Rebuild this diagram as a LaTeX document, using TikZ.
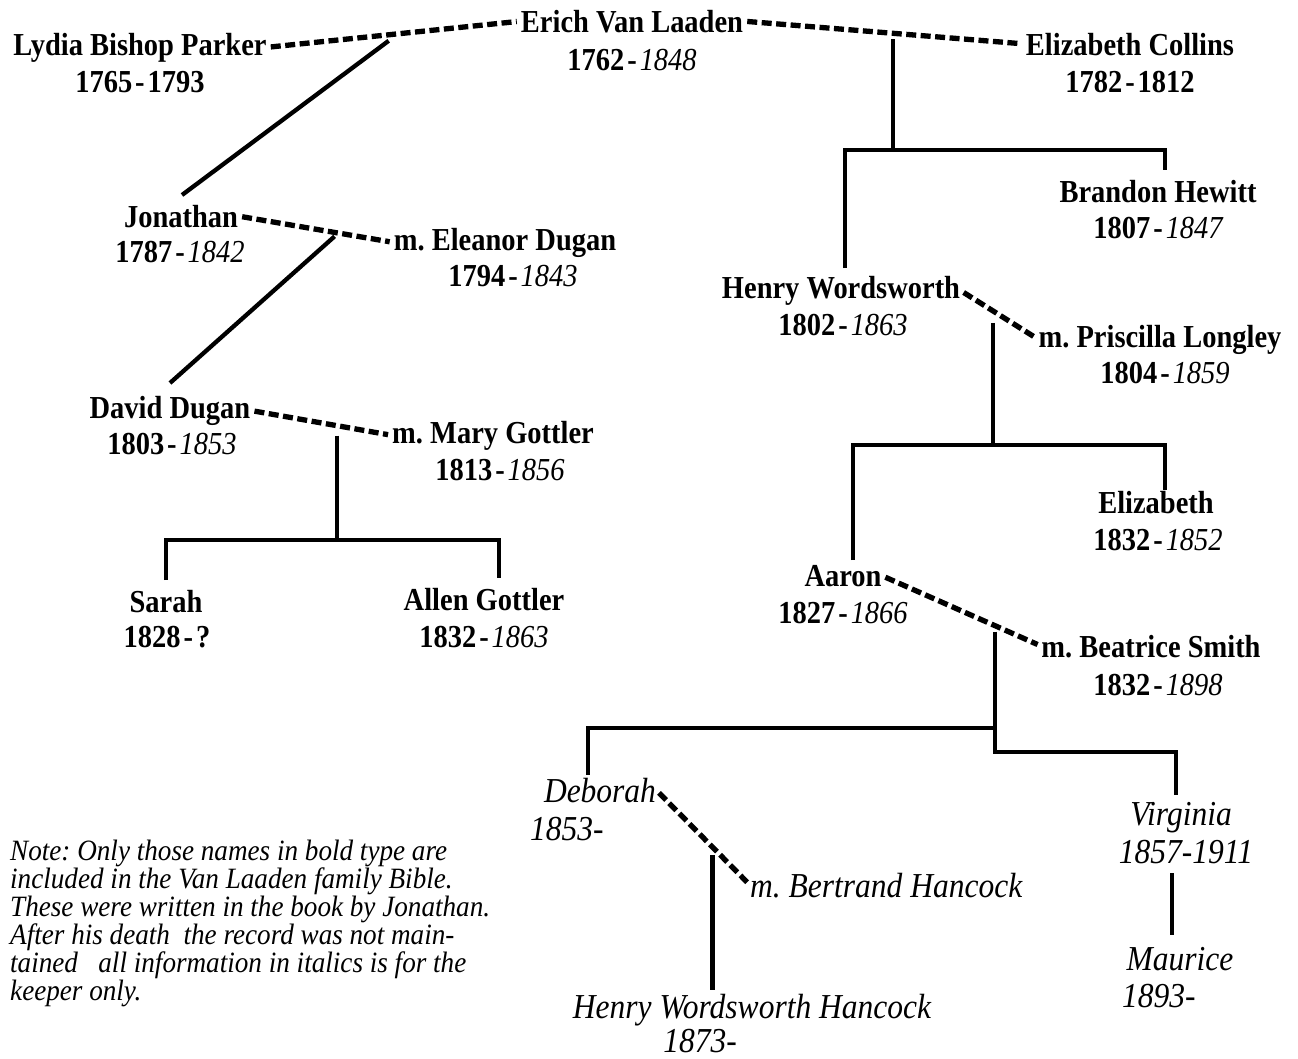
\documentclass[tikz,border=0pt]{standalone}
\usepackage{fontspec}
\setmainfont{Liberation Serif}
\newfontfamily\nmfam{Liberation Serif}[FakeStretch=0.89]
\newfontfamily\itfam{Liberation Serif}[FakeStretch=0.9]
\newfontfamily\ntfam{Liberation Serif}[FakeStretch=0.92]
\usetikzlibrary{calc}
\newcommand\yrs[2]{#1\kern3pt-\kern3pt{\mdseries\itshape #2}}
\newcommand\ybb[2]{#1\kern3pt-\kern3pt#2}
\begin{document}
\frenchspacing
\begin{tikzpicture}[x=1pt,y=-1pt,
  nm/.style={inner sep=0pt, font=\nmfam\fontsize{32}{35}\selectfont\bfseries},
  itn/.style={inner sep=0pt, font=\itfam\fontsize{35}{35}\selectfont\itshape},
  solidln/.style={line width=4.3pt, line cap=butt, line join=miter},
  dashln/.style={line width=5.3pt, dash pattern=on 10pt off 4.5pt, shorten <=4pt, shorten >=4pt},
]
\fill[white] (0,0) rectangle (1298,1058);
\useasboundingbox (0,0) rectangle (1298,1058);

% ---- top generation
\node[nm, anchor=base] (lydN) at (140,55) {Lydia Bishop Parker};
\node[nm, anchor=base] (lydD) at (140,92) {\ybb{1765}{1793}};
\node[nm, anchor=base] (erN) at (632,32) {Erich Van Laaden};
\node[nm, anchor=base] (erD) at (632,70) {\yrs{1762}{1848}};
\node[nm, anchor=base] (ecN) at (1130,55) {Elizabeth Collins};
\node[nm, anchor=base] (ecD) at (1130,92) {\ybb{1782}{1812}};

% ---- left branch
\node[nm, anchor=base] (jonN) at (181,227) {Jonathan};
\node[nm, anchor=base] (jonD) at (180,262) {\yrs{1787}{1842}};
\node[nm, anchor=base] (elN) at (505,250) {m. Eleanor Dugan};
\node[nm, anchor=base] (elD) at (513,286) {\yrs{1794}{1843}};
\node[nm, anchor=base] (ddN) at (170,418) {David Dugan};
\node[nm, anchor=base] (ddD) at (172,454) {\yrs{1803}{1853}};
\node[nm, anchor=base] (mgN) at (493,443) {m. Mary Gottler};
\node[nm, anchor=base] (mgD) at (500,480) {\yrs{1813}{1856}};
\node[nm, anchor=base] (saN) at (166,612) {Sarah};
\node[nm, anchor=base] (saD) at (167,647) {\ybb{1828}{?}};
\node[nm, anchor=base] (agN) at (484,610) {Allen Gottler};
\node[nm, anchor=base] (agD) at (484,647) {\yrs{1832}{1863}};

% ---- right branch
\node[nm, anchor=base] (bhN) at (1158,202) {Brandon Hewitt};
\node[nm, anchor=base] (bhD) at (1158,238) {\yrs{1807}{1847}};
\node[nm, anchor=base] (hwN) at (841,298) {Henry Wordsworth};
\node[nm, anchor=base] (hwD) at (843,335) {\yrs{1802}{1863}};
\node[nm, anchor=base] (plN) at (1160,347) {m. Priscilla Longley};
\node[nm, anchor=base] (plD) at (1165,383) {\yrs{1804}{1859}};
\node[nm, anchor=base] (ezN) at (1156,513) {Elizabeth};
\node[nm, anchor=base] (ezD) at (1158,550) {\yrs{1832}{1852}};
\node[nm, anchor=base] (aaN) at (843,586) {Aaron};
\node[nm, anchor=base] (aaD) at (843,623) {\yrs{1827}{1866}};
\node[nm, anchor=base] (bsN) at (1151,657) {m. Beatrice Smith};
\node[nm, anchor=base] (bsD) at (1158,695) {\yrs{1832}{1898}};

% ---- italic generation
\node[itn, anchor=base] (dbN) at (600,802) {Deborah};
\node[itn, anchor=base west] (dbD) at (530,840) {1853-};
\node[itn, anchor=base west] (btN) at (750,897) {m. Bertrand Hancock};
\node[itn, anchor=base] (hhN) at (752,1018) {Henry Wordsworth Hancock};
\node[itn, anchor=base] (hhD) at (700,1052) {1873-};
\node[itn, anchor=base] (vgN) at (1181,825) {Virginia};
\node[itn, anchor=base] (vgD) at (1186,863) {1857-1911};
\node[itn, anchor=base] (maN) at (1180,970) {Maurice};
\node[itn, anchor=base west] (maD) at (1122,1007) {1893-};

% ---- note
\node[anchor=north west, align=left, inner sep=0pt,
      font=\ntfam\fontsize{29.5}{26}\selectfont\itshape] (note) at (10,840)
  {Note: Only those names in bold type are\\
   included in the Van Laaden family Bible.\\
   These were written in the book by Jonathan.\\
   After his death\ \ the record was not main-\\
   tained\ \ \ all information in italics is for the\\
   keeper only.};

% ---- junction points on marriage lines
\coordinate (j1) at ($(lydN.east)!0.48!(erN.west)$);
\coordinate (j2) at ($(erN.east)!0.53!(ecN.west)$);
\coordinate (j4) at ($(jonN.east)!0.62!(elN.west)$);
\coordinate (j7) at ($(ddN.east)!0.61!(mgN.west)$);
\coordinate (j3) at ($(hwN.east)!0.42!(plN.west)$);
\coordinate (j5) at ($(aaN.east)!0.71!(bsN.west)$);
\coordinate (j6) at ($(dbN.east)!0.6!(btN.west)$);

% ---- marriage (dashed) connectors
\draw[dashln] (lydN.east) -- (erN.west);
\draw[dashln] (erN.east) -- (ecN.west);
\draw[dashln] (jonN.east) -- (elN.west);
\draw[dashln] (ddN.east) -- (mgN.west);
\draw[dashln] (hwN.east) -- (plN.west);
\draw[dashln] (aaN.east) -- (bsN.west);
\draw[dashln] (dbN.east) -- (btN.west);

% ---- named end coordinates
\coordinate (jonTop) at (182,195);
\coordinate (ddTop) at (170,383);
\coordinate (b4L) at (166,540);
\coordinate (b4R) at (499,540);
\coordinate (saTop) at (166,580);
\coordinate (agTop) at (499,578);
\coordinate (b1L) at (845,150);
\coordinate (b1R) at (1165,150);
\coordinate (hwTop) at (845,268);
\coordinate (bhTop) at (1165,170);
\coordinate (b2L) at (853,445);
\coordinate (b2R) at (1165,445);
\coordinate (aaTop) at (853,560);
\coordinate (ezTop) at (1165,490);
\coordinate (b3L) at (588,728);
\coordinate (debTop) at (588,775);
\coordinate (b3R) at (1176,752);
\coordinate (vgTop) at (1176,795);
\coordinate (hhTop) at (712,990);
\coordinate (vmTop) at (1172,873);
\coordinate (vmBot) at (1172,935);

% ---- descent (solid) connectors
\draw[solidln] ([yshift=-6pt]j1) -- (jonTop);
\draw[solidln] ([yshift=-4pt]j4) -- (ddTop);
\draw[solidln] ([yshift=-10pt]j7) -- (j7 |- b4L);
\draw[solidln] (saTop) -- (b4L) -- (b4R) -- (agTop);

\draw[solidln] ([yshift=-6pt]j2) -- (j2 |- b1L);
\draw[solidln] (hwTop) -- (b1L) -- (b1R) -- (bhTop);
\draw[solidln] ([yshift=-12pt]j3) -- (j3 |- b2L);
\draw[solidln] (aaTop) -- (b2L) -- (b2R) -- (ezTop);
\draw[solidln] ([yshift=-6pt]j5) -- (j5 |- b3R) -- (b3R) -- (vgTop);
\draw[solidln] (j5 |- b3L) -- (b3L) -- (debTop);
\draw[solidln] ([yshift=-8pt]j6) -- (j6 |- hhTop);
\draw[solidln] (vmTop) -- (vmBot);
\end{tikzpicture}
\end{document}
